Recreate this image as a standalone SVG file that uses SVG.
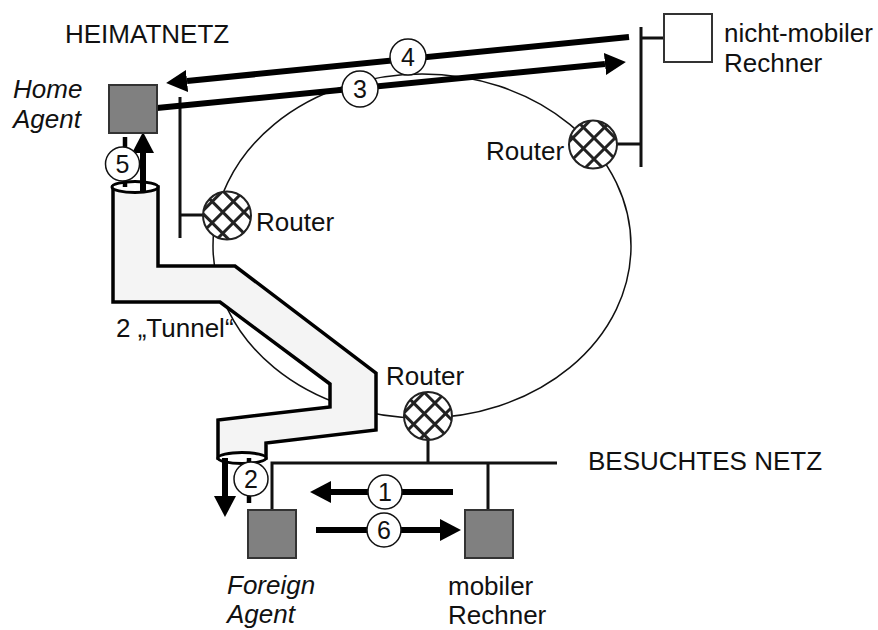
<svg xmlns="http://www.w3.org/2000/svg" width="878" height="630" viewBox="0 0 878 630">
<defs>
<style>
text{font-family:"Liberation Sans",Arial,sans-serif;font-size:26px;fill:#111}
.it{font-style:italic}
.num{font-size:25px;text-anchor:middle}
.net{stroke:#111;stroke-width:3;fill:none}
.thin{stroke:#111;stroke-width:1.5;fill:none}
.arr{stroke:#000;stroke-width:6;fill:none}
.sec{stroke:#000;stroke-width:4.5;fill:none}
.box{fill:#808080;stroke:#333;stroke-width:2}
.wbox{fill:#fff;stroke:#333;stroke-width:2}
.badge{fill:#fff;stroke:#111;stroke-width:1.5}
.router{fill:url(#hatch);stroke:#222;stroke-width:2}
</style>
<pattern id="hatch" patternUnits="userSpaceOnUse" width="15" height="15" patternTransform="rotate(45)">
<rect width="15" height="15" fill="#fff"/>
<path d="M0,7.5 H15 M7.5,0 V15" stroke="#222" stroke-width="3"/>
</pattern>
<marker id="head" viewBox="0 -11 21 22" refX="0" refY="0" markerWidth="21" markerHeight="22" markerUnits="userSpaceOnUse" orient="auto">
<path d="M0,-11 L21,0 L0,11 z" fill="#000"/>
</marker>
</defs>
<rect width="878" height="630" fill="#fff"/>

<g id="backbone">
<ellipse cx="422" cy="246" rx="209" ry="172" class="thin"/>
</g>

<g id="tunnel">
<path d="M113,187 L113,302 L220,302 L330,384 L330,407 L218,420 L218,458 L266,458 L266,443 L376,430 L376,373 L235,266 L158,266 L158,187 Z" fill="#f4f4f4" stroke="#000" stroke-width="3.5" stroke-linejoin="miter"/>
<ellipse cx="135" cy="187" rx="23" ry="5.5" fill="#fff" stroke="#000" stroke-width="3"/>
<ellipse cx="242" cy="458" rx="24" ry="5.5" fill="#fff" stroke="#000" stroke-width="3"/>
<text x="116" y="337">2 „Tunnel“</text>
</g>

<g id="connectors">
<path class="net" d="M180,97 V238 M180,215 H203"/>
<path class="net" d="M641,27 V167 M641,38 H664 M617,144 H641"/>
<path class="net" d="M272,510 V463 H557 M488,463 V510 M428,440 V463"/>
<path class="sec" d="M125,137 V187"/>
<path class="sec" d="M249,458 V503"/>
<path class="arr" d="M629,37 L187,81" marker-end="url(#head)"/>
<path class="arr" d="M157,108 L605,64" marker-end="url(#head)"/>
<path class="arr" d="M143,192 V153" marker-end="url(#head)"/>
<path class="arr" d="M225,458 V496" marker-end="url(#head)"/>
<path class="arr" d="M453,492 H331" marker-end="url(#head)"/>
<path class="arr" d="M316,530 H440" marker-end="url(#head)"/>
<circle class="badge" cx="408" cy="57" r="18"/><text class="num" x="408" y="66">4</text>
<circle class="badge" cx="360" cy="89" r="18"/><text class="num" x="360" y="98">3</text>
<circle class="badge" cx="122.5" cy="164" r="17"/><text class="num" x="122.5" y="173">5</text>
<circle class="badge" cx="251" cy="479" r="17"/><text class="num" x="251" y="488">2</text>
<circle class="badge" cx="385" cy="492" r="17"/><text class="num" x="385" y="501">1</text>
<circle class="badge" cx="384" cy="530" r="17"/><text class="num" x="384" y="539">6</text>
</g>

<g id="router-home">
<circle class="router" cx="227" cy="215.5" r="24"/>
<text x="256" y="231">Router</text>
</g>
<g id="router-remote">
<circle class="router" cx="593" cy="144.5" r="24"/>
<text x="486" y="160">Router</text>
</g>
<g id="router-visited">
<circle class="router" cx="428" cy="416" r="24"/>
<text x="386" y="385">Router</text>
</g>

<g id="home-agent">
<rect class="box" x="109" y="85" width="48" height="48"/>
<text class="it" x="13" y="98">Home</text>
<text class="it" x="13" y="128">Agent</text>
</g>
<g id="non-mobile">
<rect class="wbox" x="664" y="14" width="48" height="48"/>
<text x="724" y="42">nicht-mobiler</text>
<text x="724" y="72">Rechner</text>
</g>
<g id="foreign-agent">
<rect class="box" x="248" y="510" width="48" height="48"/>
<text class="it" x="227" y="594">Foreign</text>
<text class="it" x="227" y="623">Agent</text>
</g>
<g id="mobile">
<rect class="box" x="465" y="510" width="48" height="48"/>
<text x="448" y="595">mobiler</text>
<text x="448" y="624">Rechner</text>
</g>

<g id="labels">
<text x="65" y="43">HEIMATNETZ</text>
<text x="588" y="470">BESUCHTES NETZ</text>
</g>
</svg>
